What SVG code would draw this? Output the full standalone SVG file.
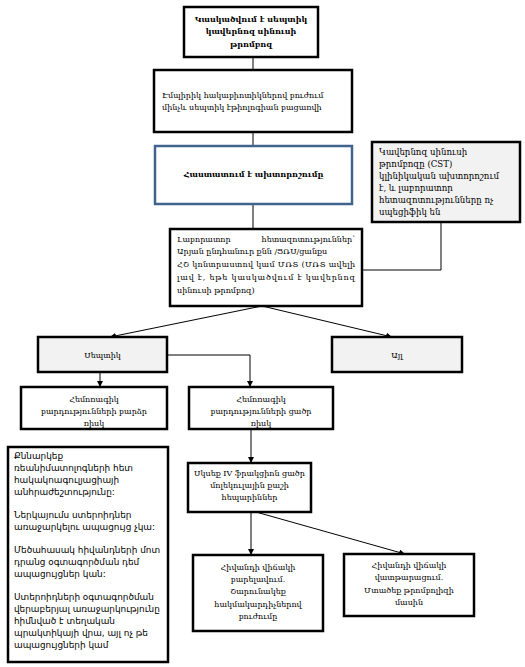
<svg xmlns="http://www.w3.org/2000/svg" width="525" height="667" viewBox="0 0 525 667">
<style>
.box{fill:#fff;stroke:#000;stroke-width:2.5}
.gray{fill:#f2f2f2}
.blue{stroke:#41648f}
.t{font-family:"DejaVu Serif",serif;font-size:8px;fill:#000}
.r{font-size:8.6px}
.b{font-weight:bold}
.m{text-anchor:middle}
.s{font-family:"DejaVu Sans",sans-serif;font-size:8.9px;fill:#000}
.c{stroke:#000;stroke-width:1;fill:none}
</style>
<defs>
<marker id="ah" viewBox="0 0 10 10" refX="10" refY="5" markerWidth="6" markerHeight="6" orient="auto" markerUnits="userSpaceOnUse">
<path d="M0,0 L10,5 L0,10 z" fill="#000"/>
</marker>
</defs>
<rect width="525" height="667" fill="#fff"/>
<g id="connectors">
<line class="c" x1="253" y1="57" x2="253" y2="70"/>
<line class="c" x1="253" y1="132" x2="253" y2="146"/>
<line class="c" x1="253" y1="204" x2="253" y2="229"/>
<polyline class="c" points="441,222 441,270 362,270"/>
<line class="c" x1="262" y1="306" x2="110" y2="337" marker-end="url(#ah)"/>
<line class="c" x1="262" y1="306" x2="392" y2="337" marker-end="url(#ah)"/>
<polyline class="c" points="167,355 250,355 250,387" marker-end="url(#ah)"/>
<line class="c" x1="100" y1="372" x2="100" y2="387" marker-end="url(#ah)"/>
<line class="c" x1="251" y1="429" x2="251" y2="463" marker-end="url(#ah)"/>
<line class="c" x1="251" y1="512" x2="251" y2="555" marker-end="url(#ah)"/>
<line class="c" x1="256" y1="512" x2="405" y2="554" marker-end="url(#ah)"/>
</g>
<g id="n1">
<rect class="box" x="184" y="7" width="134" height="50"/>
<text class="t b m" x="251" y="22">Կասկածվում է սեպտիկ</text>
<text class="t b m" x="251" y="34">կավերնոզ սինուսի</text>
<text class="t b m" x="251" y="47">թրոմբոզ</text>
</g>
<g id="n2">
<rect class="box" x="154" y="70" width="198" height="62"/>
<text class="t" x="162" y="98">Էմպիրիկ հակաբիոտիկներով բուժում</text>
<text class="t" x="162" y="110">մինչև սեպտիկ էթիոլոգիան բացառվի</text>
</g>
<g id="n3">
<rect class="box blue" x="155" y="146" width="197" height="58"/>
<text class="t b m" x="253.5" y="177">Հաստատում է ախտորոշումը</text>
</g>
<g id="n4">
<rect class="box gray" x="372" y="142" width="148" height="80"/>
<text class="t r" x="379" y="155">Կավերնոզ սինուսի</text>
<text class="t r" x="379" y="167">թրոմբոզը (CST)</text>
<text class="t r" x="379" y="179">կլինիկական ախտորոշում</text>
<text class="t r" x="379" y="191">է, և լաբորատոր</text>
<text class="t r" x="379" y="203">հետազոտությունները ոչ</text>
<text class="t r" x="379" y="215">սպեցիֆիկ են</text>
</g>
<g id="n5">
<rect class="box" x="170" y="229" width="192" height="77"/>
<text class="t" x="177" y="242">Լաբորատոր</text>
<text class="t" x="355" y="242" text-anchor="end">հետազոտություններ՝</text>
<text class="t" x="177" y="254">Արյան ընդհանուր քնն /ՑՌՍ/ցանքս</text>
<text class="t" x="177" y="267" textLength="178" lengthAdjust="spacing">ՀՇ կոնտրաստով կամ ՄՌՏ (ՄՌՏ ավելի</text>
<text class="t" x="177" y="280" textLength="178" lengthAdjust="spacing">լավ է, եթե կասկածվում է կավերնոզ</text>
<text class="t" x="177" y="293">սինուսի թրոմբոզ)</text>
</g>
<g id="n6">
<rect class="box gray" x="38" y="337" width="129" height="35"/>
<text class="t m" x="102.5" y="358">Սեպտիկ</text>
</g>
<g id="n7">
<rect class="box gray" x="332" y="337" width="130" height="35"/>
<text class="t m" x="397" y="358">Այլ</text>
</g>
<g id="n8">
<rect class="box" x="21" y="387" width="146" height="42"/>
<text class="t m" x="94" y="402">Հեմոռագիկ</text>
<text class="t m" x="94" y="414">բարդությունների բարձր</text>
<text class="t m" x="94" y="426">ռիսկ</text>
</g>
<g id="n9">
<rect class="box" x="189" y="387" width="144" height="42"/>
<text class="t m" x="261" y="402">Հեմոռագիկ</text>
<text class="t m" x="261" y="414">բարդությունների ցածր</text>
<text class="t m" x="261" y="426">ռիսկ</text>
</g>
<g id="n10">
<rect class="box" x="8" y="447" width="160" height="215"/>
<text class="s" x="14" y="459">Քննարկեք</text>
<text class="s" x="14" y="471">ռեանիմատոլոգների  հետ</text>
<text class="s" x="14" y="483">հակակոագուլյացիայի</text>
<text class="s" x="14" y="495">անհրաժեշտությունը:</text>
<text class="s" x="14" y="518">Ներկայումս ստերոիդներ</text>
<text class="s" x="14" y="530">առաջարկելու ապացույց չկա:</text>
<text class="s" x="14" y="553">Մեծահասակ հիվանդների մոտ</text>
<text class="s" x="14" y="565">դրանց օգտագործման դեմ</text>
<text class="s" x="14" y="577">ապացույցներ կան:</text>
<text class="s" x="14" y="600">Ստերոիդների օգտագործման</text>
<text class="s" x="14" y="612">վերաբերյալ առաջարկությունը</text>
<text class="s" x="14" y="624">հիմնված է տեղական</text>
<text class="s" x="14" y="636">պրակտիկայի վրա, այլ ոչ թե</text>
<text class="s" x="14" y="648">ապացույցների կամ</text>
</g>
<g id="n11">
<rect class="box" x="188" y="463" width="123" height="49"/>
<text class="t m" x="249.5" y="476">Սկսեք IV ֆրակցիոն ցածր</text>
<text class="t m" x="249.5" y="488">մոլեկուլային քաշի</text>
<text class="t m" x="249.5" y="500">հեպարիններ</text>
</g>
<g id="n12">
<rect class="box" x="193" y="555" width="130" height="76"/>
<text class="t m" x="258" y="570">Հիվանդի վիճակի</text>
<text class="t m" x="258" y="582">բարելավում.</text>
<text class="t m" x="258" y="594">Շարունակեք</text>
<text class="t m" x="258" y="607">հակմակարդիչներով</text>
<text class="t m" x="258" y="619">բուժումը</text>
</g>
<g id="n13">
<rect class="box" x="344" y="554" width="130" height="62"/>
<text class="t m" x="409" y="568">Հիվանդի վիճակի</text>
<text class="t m" x="409" y="580">վատթարացում.</text>
<text class="t m" x="409" y="593">Մտածեք թրոմբոլիզի</text>
<text class="t m" x="409" y="605">մասին</text>
</g>
</svg>
